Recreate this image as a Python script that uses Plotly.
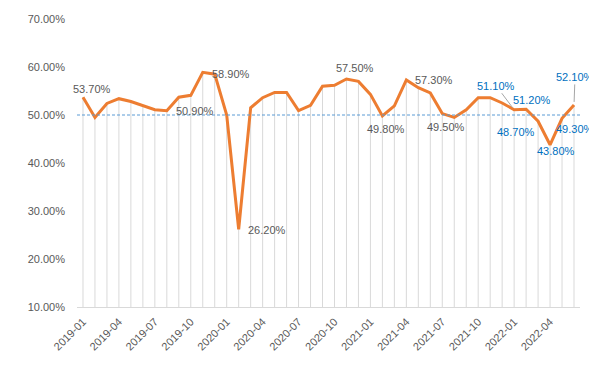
import plotly.graph_objects as go

months = ["2019-01","2019-02","2019-03","2019-04","2019-05","2019-06","2019-07","2019-08","2019-09","2019-10","2019-11","2019-12",
          "2020-01","2020-02","2020-03","2020-04","2020-05","2020-06","2020-07","2020-08","2020-09","2020-10","2020-11","2020-12",
          "2021-01","2021-02","2021-03","2021-04","2021-05","2021-06","2021-07","2021-08","2021-09","2021-10","2021-11","2021-12",
          "2022-01","2022-02","2022-03","2022-04","2022-05","2022-06"]
values = [53.7, 49.5, 52.4, 53.4, 52.8, 51.9, 51.1, 50.9, 53.7, 54.1, 58.9, 58.5,
          50.0, 26.2, 51.5, 53.6, 54.7, 54.7, 50.9, 52.0, 56.0, 56.2, 57.5, 57.0,
          54.3, 49.8, 51.9, 57.3, 55.7, 54.6, 50.3, 49.5, 51.1, 53.6, 53.6, 52.5,
          51.1, 51.2, 48.7, 43.8, 49.3, 52.1]
tick_months = months[::3]
y_ticks = [10, 20, 30, 40, 50, 60, 70]
y_tick_text = [f"{v:.2f}%" for v in y_ticks]
threshold = 50.0
y_min = 10.0

# labelled points
gray_labels = ["2019-01", "2019-08", "2019-11", "2020-02", "2020-11", "2021-02", "2021-04", "2021-08"]
blue_labels = ["2022-01", "2022-02", "2022-03", "2022-04", "2022-05", "2022-06"]

GRAY = "#595959"
BLUE = "#0070C0"
FONT = "Liberation Sans, Arial, sans-serif"

fig = go.Figure()

# drop lines
fig.add_trace(go.Scatter(
    x=months, y=values, mode="markers", marker=dict(size=0.1, color="rgba(0,0,0,0)"),
    error_y=dict(type="data", symmetric=False, array=[0]*len(values),
                 arrayminus=[v - y_min for v in values], width=0, color="#d9d9d9", thickness=1),
    hoverinfo="skip", showlegend=False, cliponaxis=False))

fig.add_trace(go.Scatter(
    x=months, y=values, mode="lines", line=dict(color="#ED7D31", width=3),
    showlegend=False))

# 50% reference line
fig.add_shape(type="line", xref="paper", x0=0, x1=1, yref="y", y0=threshold, y1=threshold,
              line=dict(color="#5B9BD5", width=1, dash="3px,2px"))

val = dict(zip(months, values))
shifts = {
    "2019-01": (9, 8), "2019-08": (28, 0), "2019-11": (28, -2), "2020-02": (28, -1),
    "2020-11": (9, 11), "2021-02": (4, -13), "2021-04": (28, 0), "2021-08": (-8, -10),
    "2022-02": (6, 9), "2022-03": (-22, -11), "2022-04": (6, -6), "2022-05": (13, -11),
}
arrows = {"2022-01": (-18, -24), "2022-06": (1, -28)}

for m in gray_labels + blue_labels:
    color = GRAY if m in gray_labels else BLUE
    txt = f"{val[m]:.2f}%"
    if m in arrows:
        ax, ay = arrows[m]
        fig.add_annotation(x=m, y=val[m], text=txt, showarrow=True, ax=ax, ay=ay,
                           arrowhead=0, arrowwidth=1, arrowcolor="#a6a6a6", standoff=3,
                           font=dict(color=color, size=11, family=FONT))
    else:
        dx, dy = shifts[m]
        fig.add_annotation(x=m, y=val[m], text=txt, showarrow=False, xshift=dx, yshift=dy,
                           font=dict(color=color, size=11, family=FONT))

# page body has an 8px default margin; size the figure to compensate
fig.update_layout(
    width=589, height=364,
    margin=dict(l=69, r=17, t=11, b=65, autoexpand=False),
    paper_bgcolor="white", plot_bgcolor="white",
    font=dict(family=FONT, size=11, color=GRAY),
)
fig.update_xaxes(
    type="category", categoryorder="array", categoryarray=months,
    range=[-0.5, len(months) - 0.5], automargin=False,
    tickmode="array", tickvals=tick_months, ticktext=tick_months,
    tickangle=-45, showgrid=False, showline=True, linecolor="#d9d9d9", linewidth=1,
    ticks="", zeroline=False, tickfont=dict(size=11, color=GRAY), ticklabelstandoff=3,
)
fig.update_yaxes(
    range=[10, 70], automargin=False, tickmode="array", tickvals=y_ticks, ticktext=y_tick_text,
    showgrid=False, zeroline=False, showline=False, ticks="",
    tickfont=dict(size=11, color=GRAY), ticklabelstandoff=11,
)

fig.write_html("out.html")
